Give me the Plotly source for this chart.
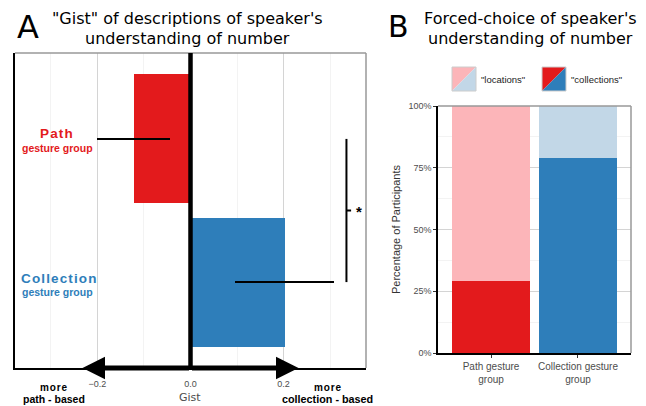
import plotly.graph_objects as go

W, H = 646, 406

# ---------------- data ----------------
gist_groups = ["Collection", "Path"]          # y positions 0, 1
gist_pos = [0, 1]
gist_means = [0.202, -0.122]
gist_err = [0.106, 0.078]
gist_colors = ["#2E7EBA", "#E31A1C"]

fc_categories = ["Path gesture<br>group", "Collection gesture<br>group"]
fc_pos = [0, 1]
fc_collections = [0.29, 0.79]
fc_locations = [0.71, 0.21]
fc_col_colors = ["#E31A1C", "#2E7EBA"]
fc_loc_colors = ["#FCB5B9", "#C2D7E7"]

x_ticks_a = [-0.2, 0.0, 0.2]
x_ticklabels_a = ["\u22120.2", "0.0", "0.2"]
y_ticks_b = [0, 0.25, 0.5, 0.75, 1.0]
y_ticklabels_b = ["0%", "25%", "50%", "75%", "100%"]


def px(x):
    return x / W


def py(y):
    return 1 - y / H


HS = "\u200a"  # hair space for letter spacing


def spaced(s):
    return HS.join(list(s))


fig = go.Figure()

# Panel A bars
fig.add_trace(go.Bar(
    x=gist_means, y=gist_pos, orientation="h", width=0.9,
    marker=dict(color=gist_colors, line=dict(width=0)),
    error_x=dict(type="data", array=gist_err, visible=True, width=0,
                 thickness=2.5, color="black"),
    xaxis="x", yaxis="y", showlegend=False, hoverinfo="x",
))

# Panel B stacked bars
fig.add_trace(go.Bar(
    x=fc_pos, y=fc_collections, width=0.9,
    marker=dict(color=fc_col_colors, line=dict(width=0)),
    xaxis="x2", yaxis="y2", showlegend=False, name='"collections"',
))
fig.add_trace(go.Bar(
    x=fc_pos, y=fc_locations, width=0.9,
    marker=dict(color=fc_loc_colors, line=dict(width=0)),
    xaxis="x2", yaxis="y2", showlegend=False, name='"locations"',
))

dom_ax = [px(15), px(366)]
dom_ay = [py(368), py(53)]
dom_bx = [px(438), px(631)]
dom_by = [py(353), py(106)]

small = dict(family="Liberation Sans, Arial, sans-serif", size=9, color="#4d4d4d")

fig.update_layout(
    width=W, height=H, margin=dict(l=0, r=0, t=0, b=0, autoexpand=False),
    paper_bgcolor="white", plot_bgcolor="white", barmode="stack",
    xaxis=dict(domain=dom_ax, range=[-0.377, 0.377], anchor="y", automargin=False,
               tickvals=x_ticks_a, ticktext=x_ticklabels_a,
               showgrid=True, gridcolor="#d4d4d4", gridwidth=1,
               minor=dict(dtick=0.1, tick0=0, showgrid=True, gridcolor="#f3f3f3"),
               zeroline=False, showline=True, linecolor="black", linewidth=1.5,
               ticks="", ticklabelstandoff=6, tickfont=small,
               fixedrange=True),
    yaxis=dict(domain=dom_ay, range=[-0.6, 1.6], anchor="x", automargin=False,
               showticklabels=False, showgrid=False, zeroline=False,
               showline=True, linecolor="black", linewidth=1.5, ticks="",
               fixedrange=True),
    xaxis2=dict(domain=dom_bx, range=[-0.61, 1.61], anchor="y2", automargin=False,
                tickvals=fc_pos, ticktext=fc_categories,
                showgrid=False, zeroline=False, showline=True, linecolor="black",
                linewidth=1.5, ticks="outside", ticklen=3, tickcolor="#333",
                tickfont=dict(family="Liberation Sans, Arial, sans-serif", size=10, color="#4d4d4d"),
                fixedrange=True),
    yaxis2=dict(domain=dom_by, range=[0, 1], anchor="x2", automargin=False,
                tickvals=y_ticks_b, ticktext=y_ticklabels_b,
                showgrid=True, gridcolor="#d4d4d4",
                minor=dict(dtick=0.125, tick0=0, showgrid=True, gridcolor="#f3f3f3"),
                zeroline=False, showline=True, linecolor="black", linewidth=1.5,
                ticks="outside", ticklen=3, tickcolor="#333", tickfont=small,
                title=dict(text="Percentage of Participants",
                           font=dict(family="Liberation Sans, Arial, sans-serif", size=11, color="#333"),
                           standoff=6),
                fixedrange=True),
)

shapes = []
# gray box borders (top/right)
for d_x, d_y in [(dom_ax, dom_ay), (dom_bx, dom_by)]:
    shapes.append(dict(type="line", xref="paper", yref="paper", x0=d_x[0], x1=d_x[1],
                       y0=d_y[1], y1=d_y[1], line=dict(color="#999999", width=1.5), layer="above"))
    shapes.append(dict(type="line", xref="paper", yref="paper", x0=d_x[1], x1=d_x[1],
                       y0=d_y[0], y1=d_y[1], line=dict(color="#999999", width=1.5), layer="above"))
# thick zero line
shapes.append(dict(type="line", xref="x", yref="y domain", x0=0, x1=0, y0=0, y1=1,
                   line=dict(color="black", width=4.5), layer="above"))
# significance bracket
shapes.append(dict(type="line", xref="x", yref="y", x0=0.335, x1=0.335, y0=0, y1=1,
                   line=dict(color="black", width=2)))
shapes.append(dict(type="line", xref="x", yref="y", x0=0.335, x1=0.345, y0=0.5, y1=0.5,
                   line=dict(color="black", width=2)))
# legend icons
for (x0, x1), (c1, c2) in [((452, 476), (fc_loc_colors[0], fc_loc_colors[1])),
                           ((542, 566), (fc_col_colors[0], fc_col_colors[1]))]:
    y0, y1 = 67, 91
    shapes.append(dict(type="path", xref="paper", yref="paper",
                       path=f"M {px(x0)},{py(y0)} L {px(x1)},{py(y0)} L {px(x0)},{py(y1)} Z",
                       fillcolor=c1, line=dict(width=0)))
    shapes.append(dict(type="path", xref="paper", yref="paper",
                       path=f"M {px(x1)},{py(y0)} L {px(x1)},{py(y1)} L {px(x0)},{py(y1)} Z",
                       fillcolor=c2, line=dict(width=0)))
    shapes.append(dict(type="rect", xref="paper", yref="paper",
                       x0=px(x0), x1=px(x1), y0=py(y1), y1=py(y0),
                       line=dict(color="#cccccc", width=1)))
fig.update_layout(shapes=shapes)

ann = []


def text(x, y, s, size, color="black", family="DejaVu Sans, sans-serif", bold=False, xanchor="center"):
    if bold:
        s = f"<b>{s}</b>"
    ann.append(dict(x=px(x), y=py(y), xref="paper", yref="paper", text=s, showarrow=False,
                    xanchor=xanchor, yanchor="middle",
                    font=dict(size=size, color=color, family=family)))


text(28, 27, "A", 32)
text(398, 27, "B", 30)
text(188, 18, '"Gist" of descriptions of speaker\'s', 16)
text(188, 38, "understanding of number", 16)
text(530, 18, "Forced-choice of speaker's", 16)
text(530, 38, "understanding of number", 16)

# x-axis title of panel A
text(190, 397, "Gist", 11, "#4d4d4d")

lab = "Liberation Sans, Arial, sans-serif"
text(56, 134, spaced("Path"), 13.5, "#E31A1C", lab, True)
text(57, 148, "gesture group", 10.5, "#E31A1C", lab, True)
text(58, 278, spaced("Collection"), 13.5, "#2E7EBA", lab, True)
text(57, 292, "gesture group", 10.5, "#2E7EBA", lab, True)
text(54, 387, spaced("more"), 10, "black", lab, True)
text(54, 399, "path - based", 10.5, "black", lab, True)
text(327, 387, spaced("more"), 10, "black", lab, True)
text(327, 399, "collection - based", 10.8, "black", lab, True)
text(359, 211, "*", 15, "black", lab, True)
text(479, 79, '"locations"', 9.5, "#222", lab, xanchor="left")
text(569, 79, '"collections"', 9.5, "#222", lab, xanchor="left")

# double-headed arrow along the x axis
for tip in [-0.232, 0.232]:
    ann.append(dict(x=tip, y=-0.6, xref="x", yref="y", ax=0, ay=-0.6, axref="x", ayref="y",
                    showarrow=True, arrowhead=2, arrowsize=0.9, arrowwidth=5,
                    arrowcolor="black", text=""))

fig.update_layout(annotations=ann)

# remove the browser's default 8px body margin so the 646x406 figure fills the window
fig.write_html("out.html", config={"displayModeBar": False},
               post_script="document.body.style.margin='0';")
